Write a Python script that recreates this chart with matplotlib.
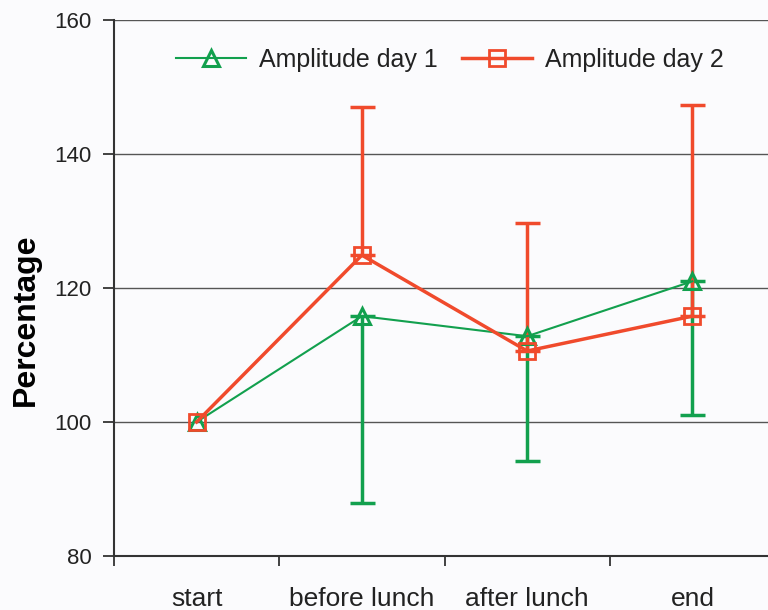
import matplotlib

matplotlib.use("Agg")
import matplotlib.pyplot as plt
from matplotlib.lines import Line2D
import numpy as np

plt.rcParams["font.family"] = ["Liberation Sans", "DejaVu Sans"]

categories = ["start", "before lunch", "after lunch", "end"]
day1 = [100, 115.8, 112.8, 121.0]
day1_err_low = [0, 27.9, 18.6, 20.0]
day2 = [100, 124.9, 110.6, 115.8]
day2_err_high = [0, 22.1, 19.1, 31.5]

green = "#12a04e"
red = "#f04a2c"

fig = plt.figure(figsize=(7.68, 6.1), dpi=100)
fig.patch.set_facecolor("#fbfbfd")
ax = fig.add_axes([114 / 768, 1 - 556 / 610, 661 / 768, 536 / 610])
ax.set_facecolor("#fbfbfd")

x = np.arange(len(categories))
d1 = np.array(day1)
d2 = np.array(day2)
lo = np.array(day1_err_low)
hi = np.array(day2_err_high)
m1 = lo > 0
m2 = hi > 0

# error bars only where there is a spread
ax.errorbar(x[m1], d1[m1], yerr=[lo[m1], np.zeros(m1.sum())], fmt="none",
            ecolor=green, elinewidth=2.5, capsize=9, capthick=2.5, zorder=3)
ax.errorbar(x[m2], d2[m2], yerr=[np.zeros(m2.sum()), hi[m2]], fmt="none",
            ecolor=red, elinewidth=2.5, capsize=9, capthick=2.5, zorder=4)

ax.plot(x, day1, color=green, lw=1.5, marker="^", ms=12, mfc="none",
        mec=green, mew=2.2, zorder=5)
ax.plot(x, day2, color=red, lw=2.5, marker="s", ms=12, mfc="none",
        mec=red, mew=2.0, zorder=6)

ax.set_xlim(-0.5, 3.5)
ax.set_ylim(80, 160)
ax.set_yticks([80, 100, 120, 140, 160])
ax.set_xticks(np.arange(-0.5, 3.5, 1.0))
ax.set_xticklabels([])
ax.set_xticks(x, minor=True)
ax.set_xticklabels(categories, minor=True, fontsize=19)
ax.tick_params(axis="x", which="minor", length=0, pad=22)
ax.tick_params(axis="x", which="major", length=7, width=1.2, direction="out")
ax.tick_params(axis="y", length=8, width=1.2, labelsize=16, pad=8, colors="#222222")
ax.tick_params(axis="x", which="both", colors="#222222")

ax.grid(axis="y", color="#555555", lw=1.0)
ax.set_axisbelow(True)
for s in ["top", "right"]:
    ax.spines[s].set_visible(False)
ax.spines["left"].set_linewidth(1.5)
ax.spines["bottom"].set_linewidth(1.5)
ax.spines["left"].set_color("#333333")
ax.spines["bottom"].set_color("#333333")

ax.set_ylabel("Percentage", fontsize=23, fontweight="bold")
ax.yaxis.set_label_coords(-0.134, 0.44)
ax.yaxis.label.set_verticalalignment("center")

handles = [
    Line2D([], [], color=green, lw=1.5, marker="^", ms=12, mfc="none", mec=green, mew=2.2),
    Line2D([], [], color=red, lw=2.5, marker="s", ms=12, mfc="none", mec=red, mew=2.0),
]
ax.legend(handles, ["Amplitude day 1", "Amplitude day 2"], loc="upper left",
          bbox_to_anchor=(0.06, 0.99), ncol=2, frameon=False, fontsize=18,
          handlelength=2.8, columnspacing=1.0, handletextpad=0.5,
          labelcolor="#222222")

plt.savefig("out.png", dpi=100, facecolor=fig.get_facecolor())
